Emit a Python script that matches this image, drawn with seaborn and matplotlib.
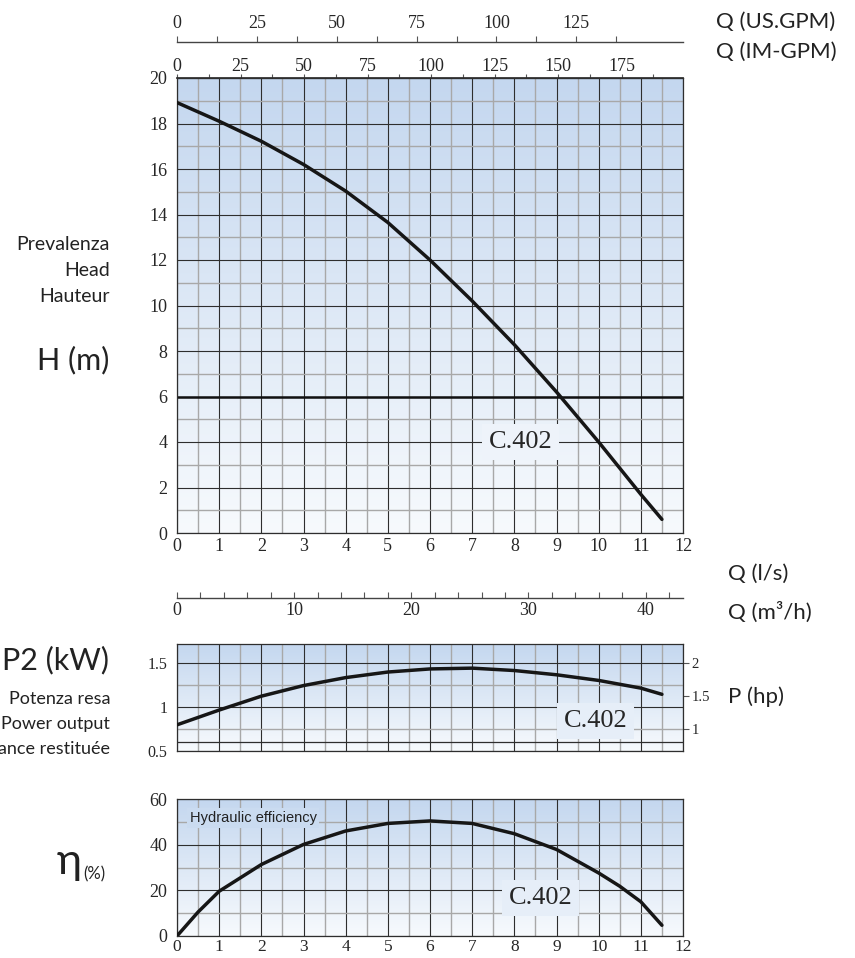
import numpy as np
import pandas as pd
import matplotlib
matplotlib.use("Agg")
import matplotlib.pyplot as plt
import seaborn as sns
from matplotlib.ticker import MultipleLocator, FixedLocator, FuncFormatter
from matplotlib.colors import LinearSegmentedColormap

# ---------------- data ----------------
q_head = [0, 1, 2, 3, 4, 5, 6, 7, 8, 9, 10, 11, 11.5]
head_m = [18.92, 18.1, 17.22, 16.2, 15.03, 13.65, 12.0, 10.2, 8.28, 6.2, 4.0, 1.7, 0.6]

q_power = [0, 1, 2, 3, 4, 5, 6, 7, 8, 9, 10, 11, 11.5]
power_kw = [0.796, 0.963, 1.12, 1.24, 1.33, 1.393, 1.428, 1.437, 1.41, 1.362, 1.298, 1.211, 1.141]

q_eff = [0, 0.5, 1, 2, 3, 4, 5, 6, 7, 8, 9, 10, 10.5, 11, 11.5]
eff_pct = [0, 10.5, 19.6, 31.3, 40.1, 46.0, 49.3, 50.4, 49.3, 44.8, 37.9, 27.6, 21.8, 15.0, 4.7]

model = "C.402"
x_ticks = list(range(0, 13))
head_ticks = list(range(0, 21, 2))
us_gpm_ticks = [0, 25, 50, 75, 100, 125]
im_gpm_ticks = [0, 25, 50, 75, 100, 125, 150, 175]
m3h_ticks = [0, 10, 20, 30, 40]
power_ticks = [0.5, 1, 1.5]
hp_ticks = [1, 1.5, 2]
eff_ticks = [0, 20, 40, 60]

# scale factors of the extra flow axes (per l/s), as drawn on the chart
US_K = 13.2
IM_K = 16.6
M3H_K = 3.6
HP_PER_KW = 1 / 0.7457

# ---------------- style ----------------
sns.set_theme(style="white")
plt.rcParams["font.family"] = ["Liberation Serif", "DejaVu Serif"]
SANS = ["Lato", "DejaVu Sans"]

W, H = 855, 958
fig = plt.figure(figsize=(W / 100, H / 100), dpi=100)
fig.patch.set_facecolor("white")


def fx(px):
    return px / W


def fy(py):
    return 1 - py / H


def add_panel(top, bottom, left=177, right=683):
    return fig.add_axes([fx(left), fy(bottom), (right - left) / W, (bottom - top) / H])


cmap = LinearSegmentedColormap.from_list("bg", ["#f7fafd", "#c4d7ef"])
DARK = "#2e2e2e"
LIGHT = "#a8a8a8"
CURVE = "#161616"


def style_panel(ax, ylo, yhi, ymaj, ymin):
    grad = np.linspace(1, 0, 256).reshape(-1, 1)
    ax.imshow(grad, cmap=cmap, extent=[0, 12, ylo, yhi], aspect="auto",
              origin="upper", zorder=-2, vmin=0, vmax=1)
    ax.set_xlim(0, 12)
    ax.set_ylim(ylo, yhi)
    ax.xaxis.set_major_locator(MultipleLocator(1))
    ax.xaxis.set_minor_locator(MultipleLocator(0.5))
    ax.yaxis.set_major_locator(MultipleLocator(ymaj))
    ax.yaxis.set_minor_locator(MultipleLocator(ymin))
    ax.set_axisbelow(True)
    ax.grid(which="minor", color=LIGHT, lw=1.0)
    ax.grid(which="major", color=DARK, lw=0.8)
    for s in ax.spines.values():
        s.set_color(DARK)
        s.set_linewidth(0.9)
    ax.tick_params(which="major", direction="out", length=5, width=0.9,
                   color=DARK, labelsize=13, pad=2)
    ax.tick_params(axis="x", which="major", length=2, pad=1.5)
    ax.tick_params(which="minor", length=0)
    ax.set_xlabel("")
    ax.set_ylabel("")


fmt_g = FuncFormatter(lambda v, p: f"{v:g}")

# ---------------- head panel ----------------
ax_h = add_panel(78, 533)
style_panel(ax_h, 0, 20, 2, 1)
sns.lineplot(x=q_head, y=head_m, ax=ax_h, color=CURVE, lw=2.5, zorder=3)
ax_h.axhline(6, color="#111111", lw=1.8, zorder=2)
ax_h.set_xticks(x_ticks)
ax_h.set_yticks(head_ticks)
ax_h.xaxis.set_major_formatter(fmt_g)
ax_h.yaxis.set_major_formatter(fmt_g)
ax_h.set_xlim(0, 12)
ax_h.set_ylim(0, 20)
ax_h.text(8.15, 4.0, model, fontsize=19, ha="center", va="center", zorder=4,
          bbox=dict(facecolor="#eef3fa", edgecolor="none", pad=5))

# IM-GPM on the top spine
sec_im = ax_h.secondary_xaxis("top", functions=(lambda x: x * IM_K, lambda x: x / IM_K))
sec_im.xaxis.set_major_locator(FixedLocator(im_gpm_ticks))
sec_im.xaxis.set_minor_locator(FixedLocator([12.5 + 25 * i for i in range(8)]))
sec_im.xaxis.set_major_formatter(fmt_g)
sec_im.tick_params(which="both", direction="out", length=3, width=0.8, color="#555555",
                   labelsize=13, pad=-1)
sec_im.spines["top"].set_color(DARK)

# US-GPM on a detached line above
sec_us = ax_h.secondary_xaxis(1 + 36 / 455, functions=(lambda x: x * US_K, lambda x: x / US_K))
sec_us.xaxis.set_major_locator(FixedLocator(us_gpm_ticks))
sec_us.xaxis.set_minor_locator(FixedLocator([12.5 + 25 * i for i in range(6)]))
sec_us.xaxis.set_major_formatter(fmt_g)
sec_us.tick_params(which="both", direction="out", length=4, width=0.8, color="#555555",
                   labelsize=13, pad=3)
sec_us.spines["top"].set_color("#444444")
sec_us.spines["top"].set_linewidth(1.0)

# m3/h detached line below the head panel
sec_m3 = ax_h.secondary_xaxis(-(598 - 533) / 455, functions=(lambda x: x * M3H_K, lambda x: x / M3H_K))
sec_m3.xaxis.set_major_locator(FixedLocator(m3h_ticks))
sec_m3.xaxis.set_minor_locator(MultipleLocator(2))
sec_m3.xaxis.set_major_formatter(fmt_g)
sec_m3.tick_params(which="both", direction="in", length=4, width=0.8, color="#555555",
                   labelsize=13, pad=3)
sec_m3.spines["bottom"].set_color("#444444")
sec_m3.spines["bottom"].set_linewidth(1.0)

# ---------------- power panel ----------------
ax_p = add_panel(644, 751)
style_panel(ax_p, 0.5, 1.71, 0.5, 0.25)
sns.lineplot(x=q_power, y=power_kw, ax=ax_p, color=CURVE, lw=2.5, zorder=3)
ax_p.axhline(0.6, color=DARK, lw=0.9, zorder=1)
ax_p.set_yticks(power_ticks)
ax_p.yaxis.set_major_formatter(fmt_g)
ax_p.set_xlim(0, 12)
ax_p.set_ylim(0.5, 1.71)
ax_p.tick_params(axis="x", which="both", length=0, labelbottom=False)
ax_p.tick_params(axis="y", labelsize=11.5)
ax_p.text(9.93, 0.84, model, fontsize=19, ha="center", va="center", zorder=4,
          bbox=dict(facecolor="#e6eef8", edgecolor="none", pad=5))
sec_hp = ax_p.secondary_yaxis("right", functions=(lambda k: k * HP_PER_KW, lambda h: h / HP_PER_KW))
sec_hp.yaxis.set_major_locator(FixedLocator(hp_ticks))
sec_hp.yaxis.set_major_formatter(fmt_g)
sec_hp.tick_params(direction="out", length=4, width=0.8, color="#555555", labelsize=10.5, pad=2)
sec_hp.spines["right"].set_visible(False)

# ---------------- efficiency panel ----------------
ax_e = add_panel(799, 936)
style_panel(ax_e, 0, 60, 20, 10)
sns.lineplot(x=q_eff, y=eff_pct, ax=ax_e, color=CURVE, lw=2.5, zorder=3)
ax_e.set_xticks(x_ticks)
ax_e.set_yticks(eff_ticks)
ax_e.xaxis.set_major_formatter(fmt_g)
ax_e.yaxis.set_major_formatter(fmt_g)
ax_e.set_xlim(0, 12)
ax_e.set_ylim(0, 60)
ax_e.tick_params(axis="x", labelsize=12.5, pad=0.5)
ax_e.text(8.62, 16.5, model, fontsize=19, ha="center", va="center", zorder=4,
          bbox=dict(facecolor="#e6eef8", edgecolor="none", pad=5))
ax_e.text(0.3, 51.6, "Hydraulic efficiency", fontsize=10.5, ha="left", va="center",
          family=["Liberation Sans", "DejaVu Sans"], color="#222222", zorder=4,
          bbox=dict(facecolor="#cadbf0", edgecolor="none", pad=2))

# ---------------- outer labels ----------------
def ftext(px, py, s, size, ha="left", va="center", family=SANS, color="#222222"):
    fig.text(fx(px), fy(py), s, fontsize=size, ha=ha, va=va, family=family, color=color)


ftext(110, 245, "Prevalenza", 14, ha="right")
ftext(110, 271, "Head", 14, ha="right")
ftext(110, 297, "Hauteur", 14, ha="right")
ftext(109, 360, "H (m)", 22, ha="right")

ftext(109, 660, "P2 (kW)", 22, ha="right")
ftext(110, 699, "Potenza resa", 13, ha="right")
ftext(110, 724, "Power output", 13, ha="right")
ftext(110, 749, "Puissance restituée", 13, ha="right")

ftext(82, 862, "η", 31, ha="right")
ftext(83, 874, "(%)", 12, ha="left")

ftext(716, 22, "Q (US.GPM)", 16)
ftext(716, 52, "Q (IM-GPM)", 16)
ftext(728, 574, "Q (l/s)", 16)
ftext(728, 612, "Q (m³/h)", 16)
ftext(728, 697, "P (hp)", 16)

fig.savefig("out.png", dpi=100, facecolor="white")
